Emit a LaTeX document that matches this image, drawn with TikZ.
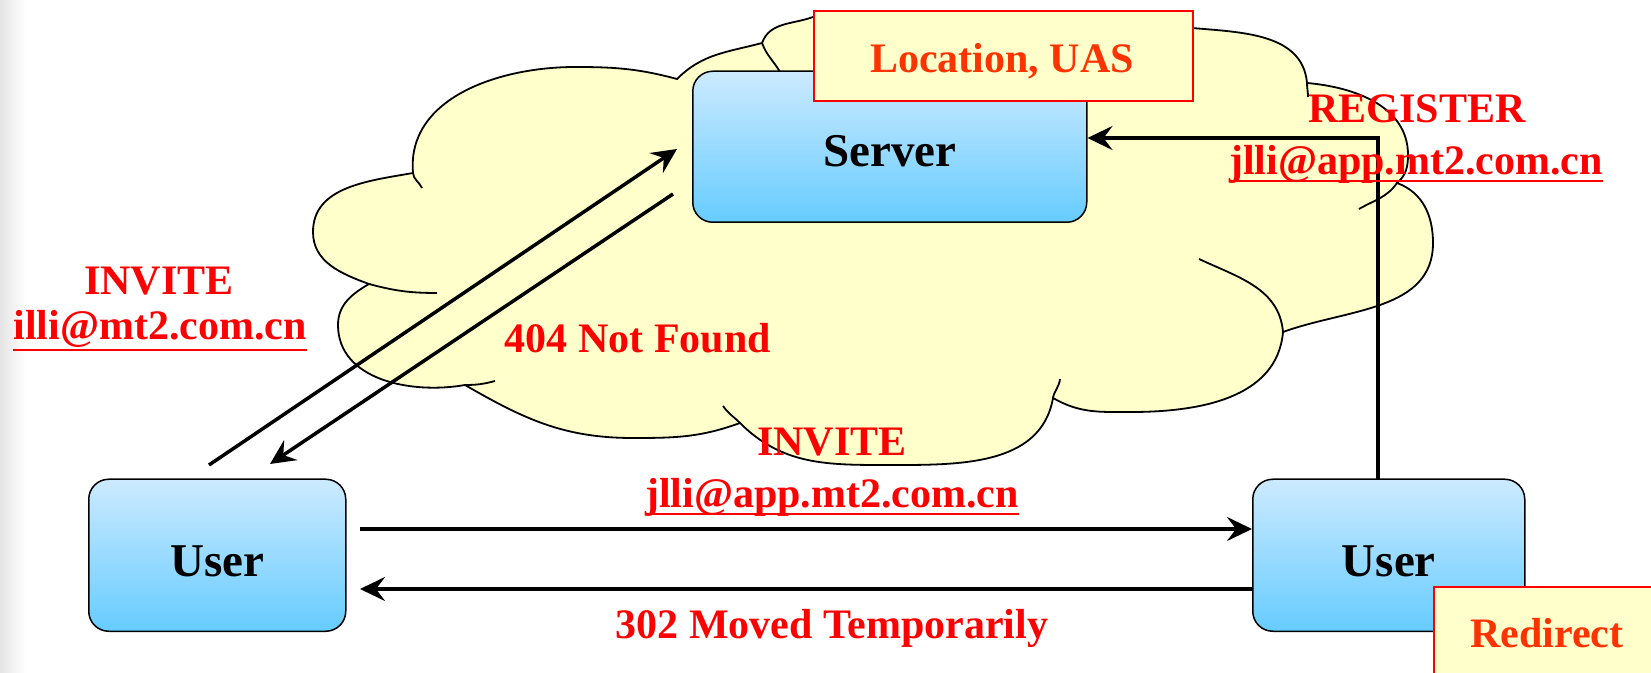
\documentclass[tikz,border=0pt]{standalone}
\usepackage{fontspec}
\setmainfont{Liberation Serif}
\usetikzlibrary{arrows.meta,shadings}
\definecolor{cloudfill}{RGB}{255,255,204}
\definecolor{boxtop}{RGB}{204,234,255}
\definecolor{boxbot}{RGB}{102,204,255}
\definecolor{lblred}{RGB}{255,0,0}
\definecolor{tagred}{RGB}{255,51,0}
\tikzset{
  bluebox/.style={draw=black, line width=1.5pt, rounded corners=20pt, top color=boxtop, bottom color=boxbot},
  tagbox/.style={draw=lblred, line width=2pt, fill=cloudfill},
  boxtext/.style={font=\bfseries\fontsize{47}{56}\selectfont, text=black, inner sep=0pt},
  lbl/.style={font=\bfseries\fontsize{42}{50}\selectfont, text=lblred, inner sep=0pt, anchor=base},
  tagtext/.style={font=\bfseries\fontsize{42}{50}\selectfont, text=tagred, inner sep=0pt, anchor=base},
  conn/.style={line width=3.5pt, -{Stealth[length=25pt,width=24pt,inset=9pt]}},
  cloudline/.style={draw=black, line width=1.8pt},
  uline/.style={draw=lblred, line width=2pt},
}
\begin{document}
\begin{tikzpicture}[x=1pt,y=1pt]
\useasboundingbox (0,0) rectangle (1651,672);
\fill[white] (0,0) rectangle (1651,672);
\shade[left color=black!10, right color=white] (0,0) rectangle (26,672);

% cloud
\path[fill=cloudfill, cloudline]
  (413,499) to[out=95,in=180] (575,605) to[out=0,in=165] (677,593)
  to[out=45,in=195] (762,629)
  to[out=70,in=200] (813,655) -- (1000,652) -- (1192,644)
  to[out=-5,in=95] (1307,589)
  to[out=-5,in=90] (1408,517) to[out=-90,in=40] (1397,489)
  to[out=-20,in=90] (1433,429) to[out=-90,in=20] (1283,340)
  to[out=-95,in=0] (1131,260) to[out=180,in=-30] (1053,274)
  to[out=-100,in=0] (887,207) to[out=180,in=-45] (740,249)
  to[out=200,in=0] (633,234) to[out=180,in=-30] (465,287)
  to[out=190,in=-90] (338,347) to[out=90,in=210] (369,388)
  to[out=160,in=-90] (313,440) to[out=90,in=190] (413,499) -- cycle;
% interior tails
\draw[cloudline] (413,499) to[out=-85,in=115] (422,484);
\draw[cloudline] (369,388) to[out=-15,in=180] (437,379);
\draw[cloudline] (465,287) to[out=0,in=195] (495,291);
\draw[cloudline] (740,249) to[out=135,in=-55] (723,266);
\draw[cloudline] (1053,274) to[out=80,in=-95] (1060,293);
\draw[cloudline] (1283,340) to[out=95,in=-25] (1199,413);
\draw[cloudline] (1397,489) to[out=235,in=30] (1359,463);
\draw[cloudline] (1307,589) to[out=-90,in=90] (1308,575);
\draw[cloudline] (762,629) to[out=-70,in=120] (780,600);

% boxes
\node[bluebox, minimum width=394pt, minimum height=151pt, anchor=south west] (server) at (692,449) {};
\node[boxtext] (servertext) at ([yshift=-4pt]server.center) {Server};
\node[bluebox, minimum width=257pt, minimum height=152pt, anchor=south west] (userL) at (88,40) {};
\node[boxtext] (userLtext) at ([yshift=-6pt]userL.center) {User};
\node[bluebox, minimum width=272pt, minimum height=152pt, anchor=south west] (userR) at (1252,40) {};
\node[boxtext] (userRtext) at ([yshift=-6pt]userR.center) {User};

\node[tagbox, minimum width=379pt, minimum height=90pt, anchor=south west] (loc) at (813,570) {};
\node[tagtext] (loctext) at (1002,599) {Location, UAS};
\node[tagbox, minimum width=260pt, minimum height=120pt, anchor=north west] (redir) at (1433,86) {};
\node[tagtext] (redirtext) at (1547,25) {Redirect};

% connectors
\coordinate (invS) at (209,207);
\coordinate (invE) at (677,523);
\coordinate (nfS) at (673,478);
\coordinate (nfE) at (270,208);
\draw[conn] (invS) -- (invE);
\draw[conn] (nfS) -- (nfE);
\coordinate (hR) at (360,143);
\coordinate (hL) at (360,83);
\draw[conn] (hR) -- (userR.west |- hR);
\draw[conn] (userR.west |- hL) -- (hL);
\coordinate (regS) at (1378,192);
\coordinate (regC) at (1378,534);
\draw[conn] (regS) -- (regC) -- (server.east |- regC);

% labels
\node[lbl] (l1) at (159,377) {INVITE};
\node[lbl] (l2) at (160,332) {illi@mt2.com.cn};
\draw[uline] ([yshift=-10pt]l2.base west) -- ([yshift=-10pt]l2.base east);
\node[lbl] (l3) at (638,319) {404 Not Found};
\node[lbl] (l4) at (832,216) {INVITE};
\node[lbl] (l5) at (832,164) {jlli@app.mt2.com.cn};
\draw[uline] ([yshift=-6pt]l5.base west) -- ([yshift=-6pt]l5.base east);
\node[lbl] (l6) at (1417,549) {REGISTER};
\node[lbl] (l7) at (1416,497) {jlli@app.mt2.com.cn};
\draw[uline] ([yshift=-6pt]l7.base west) -- ([yshift=-6pt]l7.base east);
\node[lbl] (l8) at (832,34) {302 Moved Temporarily};
\end{tikzpicture}
\end{document}
